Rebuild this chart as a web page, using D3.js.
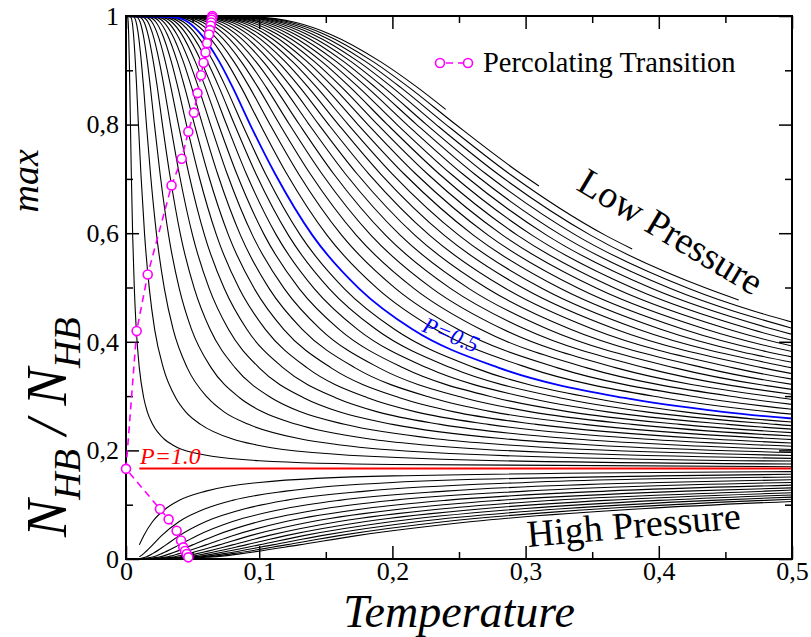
<!DOCTYPE html>
<html><head><meta charset="utf-8">
<script src="https://cdn.jsdelivr.net/npm/d3@7"></script>
<style>body{margin:0;background:#fff}svg{display:block}</style>
</head><body><svg id="c" width="811" height="637"></svg>
<script>
// ---------- data ----------
// low-pressure curves: shared N_HB levels, per-curve temperatures where each level is reached
const lowLevels = [0.998,0.988,0.967,0.916,0.869,0.801,0.709,0.596,0.498,0.423,0.352,0.297,0.271,0.248,0.221,0.210,0.196,0.181,0.174,0.170];
const lowT = [
 [0.0955,0.1276,0.1528,0.191,0.2185],
 [0.0928,0.1239,0.1484,0.1855,0.2122,0.2471,0.2968],
 [0.090,0.1202,0.144,0.180,0.2059,0.2398,0.288,0.360],
 [0.0873,0.1166,0.1396,0.1745,0.1996,0.2324,0.2792,0.349,0.4363],
 [0.0845,0.1129,0.1352,0.169,0.1933,0.2251,0.2704,0.338,0.4225,0.5198],
 [0.0818,0.1092,0.1308,0.1635,0.187,0.2178,0.2616,0.327,0.4088,0.5029],
 [0.079,0.1055,0.1264,0.158,0.1808,0.2105,0.2528,0.316,0.395,0.486,0.632],
 [0.0763,0.1019,0.122,0.1525,0.1745,0.2031,0.244,0.305,0.3813,0.4691,0.610],
 [0.0735,0.0982,0.1176,0.147,0.1682,0.1958,0.2352,0.294,0.3675,0.4522,0.588],
 [0.0708,0.0945,0.1132,0.1415,0.1619,0.1885,0.2264,0.283,0.3538,0.4353,0.566],
 [0.068,0.0908,0.1088,0.136,0.1556,0.1812,0.2176,0.272,0.340,0.4183,0.544],
 [0.0653,0.0872,0.1044,0.1305,0.1493,0.1738,0.2088,0.261,0.3263,0.4014,0.522],
 [0.0625,0.0835,0.100,0.125,0.143,0.1665,0.200,0.250,0.3125,0.3845,0.500,0.6665],
 [0.0598,0.0798,0.0956,0.1195,0.1367,0.1592,0.1912,0.239,0.2988,0.3676,0.478,0.6372],
 [0.057,0.0762,0.0912,0.114,0.1304,0.1518,0.1824,0.228,0.285,0.3507,0.456,0.6078],
 [0.0543,0.0725,0.0868,0.1085,0.1241,0.1445,0.1736,0.217,0.2713,0.3337,0.434,0.5785],
 [0.0515,0.0688,0.0824,0.103,0.1178,0.1372,0.1648,0.206,0.2575,0.3168,0.412,0.5492],
 [0.0488,0.0651,0.078,0.0975,0.1115,0.1299,0.156,0.195,0.2438,0.2999,0.390,0.5199],
 [0.046,0.0615,0.0736,0.092,0.1052,0.1225,0.1472,0.184,0.230,0.283,0.368,0.4905,0.5888],
 [0.0433,0.0578,0.0692,0.0865,0.099,0.1152,0.1384,0.173,0.2163,0.2661,0.346,0.4612,0.5536],
 [0.0405,0.0541,0.0648,0.081,0.0927,0.1079,0.1296,0.162,0.2025,0.2492,0.324,0.4319,0.5184],
 [0.0378,0.0504,0.0604,0.0755,0.0864,0.1006,0.1208,0.151,0.1888,0.2322,0.302,0.4026,0.4832,0.604],
 [0.0328,0.0438,0.0524,0.0655,0.0749,0.0872,0.1048,0.131,0.1638,0.2015,0.262,0.3492,0.4192,0.524],
 [0.0305,0.0407,0.0488,0.061,0.0698,0.0813,0.0976,0.122,0.1525,0.1876,0.244,0.3253,0.3904,0.488,0.6971],
 [0.0283,0.0377,0.0452,0.0565,0.0646,0.0753,0.0904,0.113,0.1413,0.1738,0.226,0.3013,0.3616,0.452,0.6457],
 [0.026,0.0347,0.0416,0.052,0.0595,0.0693,0.0832,0.104,0.130,0.160,0.208,0.2773,0.3328,0.416,0.5943],
 [0.0238,0.0317,0.038,0.0475,0.0543,0.0633,0.076,0.095,0.1188,0.1461,0.190,0.2533,0.304,0.380,0.5428],
 [0.0215,0.0287,0.0344,0.043,0.0492,0.0573,0.0688,0.086,0.1075,0.1323,0.172,0.2293,0.2752,0.344,0.4914,0.602],
 [0.0193,0.0257,0.0308,0.0385,0.044,0.0513,0.0616,0.077,0.0963,0.1184,0.154,0.2053,0.2464,0.308,0.440,0.539],
 [0.017,0.0227,0.0272,0.034,0.0389,0.0453,0.0544,0.068,0.085,0.1046,0.136,0.1813,0.2176,0.272,0.3886,0.476,0.680],
 [0.0148,0.0197,0.0236,0.0295,0.0337,0.0393,0.0472,0.059,0.0738,0.0907,0.118,0.1573,0.1888,0.236,0.3371,0.413,0.590],
 [0.0125,0.0167,0.020,0.025,0.0286,0.0333,0.040,0.050,0.0625,0.0769,0.100,0.1333,0.160,0.200,0.2857,0.350,0.500],
 [0.0103,0.0137,0.0164,0.0205,0.0235,0.0273,0.0328,0.041,0.0513,0.0631,0.082,0.109,0.131,0.164,0.234,0.287,0.410,0.820],
 [0.008,0.0107,0.0128,0.016,0.0183,0.0213,0.0256,0.032,0.040,0.0492,0.064,0.0853,0.1024,0.128,0.1828,0.224,0.320,0.640],
 [0.0058,0.0077,0.0092,0.0115,0.0132,0.0153,0.0184,0.023,0.0288,0.0354,0.046,0.0613,0.0736,0.092,0.1314,0.161,0.230,0.460,0.920],
 [0.0035,0.0047,0.0056,0.0070,0.0080,0.0093,0.0112,0.0140,0.0175,0.0215,0.028,0.0373,0.0448,0.056,0.080,0.098,0.140,0.280,0.560],
 [0.00125,0.00167,0.002,0.0025,0.00286,0.00333,0.004,0.005,0.00625,0.00769,0.010,0.0133,0.016,0.020,0.0286,0.035,0.050,0.100,0.200,0.500]
];
// curves that stop before T = 0.5 (first four, lowest pressures)
const lowEnds = [[0.24,0.828],[0.31,0.687],[0.38,0.571],[0.46,0.477]];
// P = 0.5 curve (blue)
const blueT = [0.035,0.047,0.056,0.070,0.080,0.093,0.112,0.140,0.175,0.215,0.280,0.373,0.448,0.560];
// P = 1.0 (red)
const redLine = [[0.01,0.1667],[0.5,0.1667]];
// high-pressure curves [T, N_HB/N_HB^max]
const highCurves = [
 [[0.01,0.026],[0.0133,0.043],[0.02,0.069],[0.03,0.093],[0.04,0.108],[0.06,0.125],[0.1,0.141],[0.2,0.153],[0.5,0.161]],
 [[0.01,0.004],[0.0133,0.010],[0.02,0.026],[0.0267,0.043],[0.04,0.069],[0.06,0.093],[0.08,0.108],[0.12,0.125],[0.2,0.141],[0.4,0.153],[0.5,0.156]],
 [[0.01,0.0005],[0.015,0.0037],[0.02,0.0099],[0.03,0.026],[0.04,0.043],[0.06,0.069],[0.09,0.093],[0.12,0.108],[0.18,0.125],[0.3,0.141],[0.5,0.151]],
 [[0.01,0.0001],[0.02,0.0037],[0.0267,0.0099],[0.04,0.026],[0.0533,0.043],[0.08,0.069],[0.12,0.093],[0.16,0.108],[0.24,0.125],[0.4,0.141],[0.5,0.146]],
 [[0.01,0],[0.025,0.0037],[0.0333,0.0099],[0.05,0.026],[0.0667,0.043],[0.1,0.069],[0.15,0.093],[0.2,0.108],[0.3,0.125],[0.5,0.141]],
 [[0.01,0],[0.03,0.0037],[0.04,0.0099],[0.06,0.026],[0.08,0.043],[0.12,0.069],[0.18,0.093],[0.24,0.108],[0.36,0.125],[0.5,0.136]],
 [[0.01,0],[0.035,0.0037],[0.0467,0.0099],[0.07,0.026],[0.0933,0.043],[0.14,0.069],[0.21,0.093],[0.28,0.108],[0.42,0.125],[0.5,0.131]],
 [[0.01,0],[0.04,0.0037],[0.0533,0.0099],[0.08,0.026],[0.1067,0.043],[0.16,0.069],[0.24,0.093],[0.32,0.108],[0.48,0.125],[0.5,0.127]],
 [[0.01,0],[0.045,0.0037],[0.06,0.0099],[0.09,0.026],[0.12,0.043],[0.18,0.069],[0.27,0.093],[0.36,0.108],[0.5,0.122]],
 [[0.01,0],[0.05,0.0037],[0.0667,0.0099],[0.1,0.026],[0.1333,0.043],[0.2,0.069],[0.3,0.093],[0.4,0.108],[0.5,0.118]],
 [[0.01,0],[0.055,0.0037],[0.0733,0.0099],[0.11,0.026],[0.1467,0.043],[0.22,0.069],[0.33,0.093],[0.44,0.108],[0.5,0.114]],
 [[0.01,0],[0.06,0.0037],[0.08,0.0099],[0.12,0.026],[0.16,0.043],[0.24,0.069],[0.36,0.093],[0.48,0.108],[0.5,0.110]],
 [[0.01,0],[0.065,0.0037],[0.0867,0.0099],[0.13,0.026],[0.1733,0.043],[0.26,0.069],[0.39,0.093],[0.5,0.106]]
];
// percolating transition points [T, N_HB/N_HB^max]
const percolation = [[0.0648,1.0],[0.0646,0.997],[0.0643,0.993],[0.064,0.988],[0.0636,0.982],[0.063,0.974],[0.0623,0.966],[0.0608,0.950],[0.0597,0.933],[0.0582,0.914],[0.0563,0.891],[0.0537,0.858],[0.051,0.822],[0.0468,0.787],[0.0418,0.737],[0.0342,0.688],[0.0163,0.524],[0.008,0.420],[0.0,0.166],[0.0255,0.092],[0.032,0.073],[0.038,0.052],[0.0413,0.034],[0.043,0.0215],[0.0443,0.0147],[0.0456,0.0092],[0.0468,0.003]];
const xTicks = [0,0.1,0.2,0.3,0.4,0.5];
const xTickLabels = ["0","0,1","0,2","0,3","0,4","0,5"];
const xMinor = [0.05,0.15,0.25,0.35,0.45];
const yTicks = [0,0.2,0.4,0.6,0.8,1];
const yTickLabels = ["0","0,2","0,4","0,6","0,8","1"];
const yMinor = [0.1,0.3,0.5,0.7,0.9];

// ---------- drawing ----------
const FONT = "Liberation Serif, Times New Roman, serif";
const M = {l:126, r:792, t:16, b:559};
const svg = d3.select("#c");
const x = d3.scaleLinear().domain([0,0.5]).range([M.l,M.r]);
const y = d3.scaleLinear().domain([0,1]).range([M.b,M.t]);
svg.append("defs").append("clipPath").attr("id","clip")
  .append("rect").attr("x",M.l).attr("y",M.t-4).attr("width",M.r-M.l).attr("height",M.b-M.t+8);
const line = d3.line().x(d=>x(d[0])).y(d=>y(d[1])).curve(d3.curveMonotoneX);
const g = svg.append("g").attr("clip-path","url(#clip)");

lowT.forEach((ts,i)=>{
  const pts = [[0,1]].concat(ts.map((t,j)=>[t,lowLevels[j]]));
  if (lowEnds[i]) pts.push(lowEnds[i]);
  g.append("path").attr("d",line(pts)).attr("fill","none").attr("stroke","#000").attr("stroke-width",1.1);
});
highCurves.forEach(c=>{
  g.append("path").attr("d",line(c)).attr("fill","none").attr("stroke","#000").attr("stroke-width",1.1);
});
g.append("path").attr("d",line(redLine)).attr("fill","none").attr("stroke","#ff0000").attr("stroke-width",2);
const bluePts = [[0,1]].concat(blueT.map((t,j)=>[t,lowLevels[j]]));
g.append("path").attr("d",line(bluePts)).attr("fill","none").attr("stroke","#0000ff").attr("stroke-width",1.8);

// frame
svg.append("rect").attr("x",M.l).attr("y",M.t).attr("width",M.r-M.l).attr("height",M.b-M.t)
  .attr("fill","none").attr("stroke","#000").attr("stroke-width",2);

function styleAxis(sel){
  sel.attr("font-family",FONT).attr("font-size",26);
  sel.select(".domain").remove();
  sel.selectAll(".tick line").attr("stroke","#000").attr("stroke-width",1.5);
  sel.selectAll("text").attr("font-family",FONT).attr("font-size",26).attr("fill","#000");
}
svg.append("g").attr("transform",`translate(0,${M.b})`)
  .call(d3.axisBottom(x).tickValues(xTicks).tickFormat((d,i)=>xTickLabels[i]).tickSize(-13).tickPadding(3)).call(styleAxis);
svg.append("g").attr("transform",`translate(0,${M.b})`)
  .call(d3.axisBottom(x).tickValues(xMinor).tickFormat("").tickSize(-7)).call(styleAxis);
svg.append("g").attr("transform",`translate(0,${M.t})`)
  .call(d3.axisTop(x).tickValues(xTicks).tickFormat("").tickSize(-13)).call(styleAxis);
svg.append("g").attr("transform",`translate(0,${M.t})`)
  .call(d3.axisTop(x).tickValues(xMinor).tickFormat("").tickSize(-7)).call(styleAxis);
svg.append("g").attr("transform",`translate(${M.l},0)`)
  .call(d3.axisLeft(y).tickValues(yTicks).tickFormat((d,i)=>yTickLabels[i]).tickSize(-13).tickPadding(7)).call(styleAxis);
svg.append("g").attr("transform",`translate(${M.l},0)`)
  .call(d3.axisLeft(y).tickValues(yMinor).tickFormat("").tickSize(-7)).call(styleAxis);
svg.append("g").attr("transform",`translate(${M.r},0)`)
  .call(d3.axisRight(y).tickValues(yTicks).tickFormat("").tickSize(-13)).call(styleAxis);
svg.append("g").attr("transform",`translate(${M.r},0)`)
  .call(d3.axisRight(y).tickValues(yMinor).tickFormat("").tickSize(-7)).call(styleAxis);

// percolation
const PINK = "#ff00ff";
svg.append("path").attr("d",d3.line().x(d=>x(d[0])).y(d=>y(d[1]))(percolation))
  .attr("fill","none").attr("stroke",PINK).attr("stroke-width",1.6).attr("stroke-dasharray","7,5");
svg.selectAll("circle.perc").data(percolation).join("circle").attr("class","perc")
  .attr("cx",d=>x(d[0])).attr("cy",d=>y(d[1])).attr("r",4.5)
  .attr("fill","#fff").attr("stroke",PINK).attr("stroke-width",1.6);

// legend
svg.append("line").attr("x1",440).attr("x2",468).attr("y1",63).attr("y2",63)
  .attr("stroke",PINK).attr("stroke-width",1.6).attr("stroke-dasharray","7,5").attr("stroke-dashoffset",-6);
[440,468].forEach(cx=>svg.append("circle").attr("cx",cx).attr("cy",63).attr("r",4.5)
  .attr("fill","#fff").attr("stroke",PINK).attr("stroke-width",1.6));
svg.append("text").attr("x",483).attr("y",72).attr("font-family",FONT).attr("font-size",28.5).text("Percolating Transition");

// annotations
svg.append("text").attr("transform","translate(575,189) rotate(31)").attr("font-family",FONT).attr("font-size",38).text("Low Pressure");
svg.append("text").attr("transform","translate(528,547) rotate(-5)").attr("font-family",FONT).attr("font-size",38).text("High Pressure");
svg.append("text").attr("x",140).attr("y",464).attr("font-family",FONT).attr("font-style","italic").attr("font-size",24).attr("fill","#ff0000").text("P=1.0");
svg.append("text").attr("transform","translate(421,331) rotate(22)").attr("font-family",FONT).attr("font-style","italic").attr("font-size",23).attr("fill","#0000ff").text("P=0.5");

// axis titles
svg.append("text").attr("x",(M.l+M.r)/2).attr("y",627).attr("text-anchor","middle")
  .attr("font-family",FONT).attr("font-style","italic").attr("font-size",46).text("Temperature");
const yt = svg.append("text").attr("transform","translate(66,537) rotate(-90)")
  .attr("font-family",FONT).attr("font-style","italic").attr("font-size",56);
yt.append("tspan").text("N");
yt.append("tspan").attr("font-size",38).attr("dy",14).text("HB");
yt.append("tspan").attr("dy",-14).text(" / N");
yt.append("tspan").attr("font-size",38).attr("dy",14).text("HB");
yt.append("tspan").attr("font-size",38).attr("dy",-42).attr("dx",105).text("max");
</script></body></html>
